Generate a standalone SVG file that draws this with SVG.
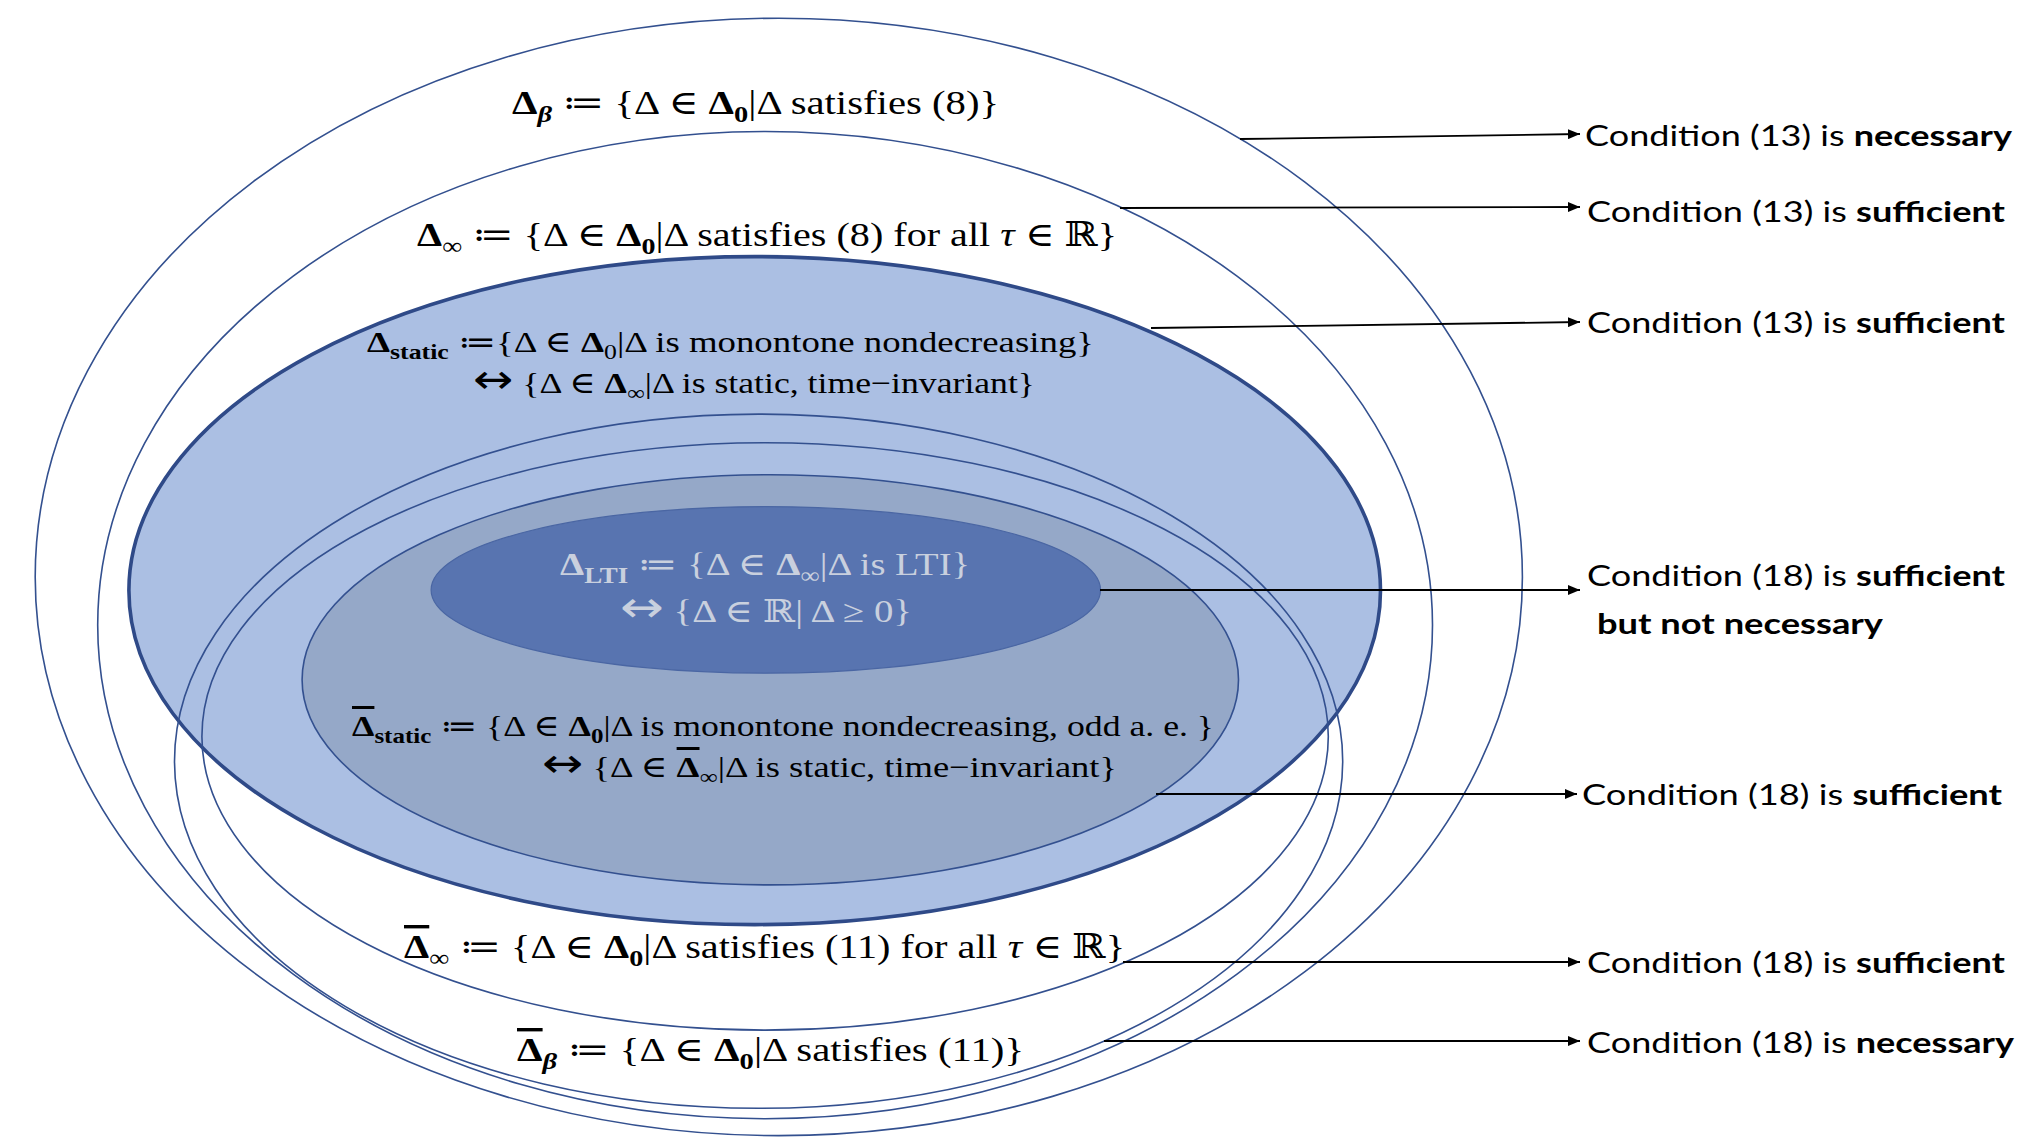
<svg xmlns="http://www.w3.org/2000/svg" width="2042" height="1146" viewBox="0 0 2042 1146">
<defs>
<marker id="arr" markerUnits="userSpaceOnUse" markerWidth="12" markerHeight="10" refX="12" refY="5" orient="auto">
<path d="M0,0 L12,5 L0,10 z" fill="#000"/>
</marker>
<style>
.ring{fill:none;stroke:#33508f;stroke-width:1.6}
.f{font-family:"Liberation Serif","DejaVu Serif",serif;fill:#000}
.big{font-size:34px}
.mid{font-size:30px}
.lab{font-family:Lato,"Liberation Sans",sans-serif;font-size:29px;fill:#000}
.b{font-weight:bold}
.i{font-style:italic}
.s{font-size:70%}
.ar{font-size:135%;font-family:"DejaVu Sans",sans-serif}
.ov{text-decoration:overline}
.conn line{stroke:#000;stroke-width:1.8;marker-end:url(#arr)}
</style>
</defs>
<rect width="2042" height="1146" fill="#fff"/>

<g id="delta-beta">
<ellipse class="ring" cx="778.8" cy="576.9" rx="743.6" ry="558.7"/>
<text class="f big" x="512" y="114" textLength="487" lengthAdjust="spacingAndGlyphs"><tspan class="b">Δ</tspan><tspan class="b i s" dy="8">β</tspan><tspan dy="-8"> ≔ {Δ ∈ </tspan><tspan class="b">Δ</tspan><tspan class="b s" dy="8">0</tspan><tspan dy="-8">|Δ satisfies (8)}</tspan></text>
</g>

<g id="delta-inf">
<ellipse class="ring" cx="765.1" cy="625.1" rx="667.4" ry="493.6"/>
<text class="f big" x="417" y="246" textLength="700" lengthAdjust="spacingAndGlyphs"><tspan class="b">Δ</tspan><tspan class="s" dy="8">∞</tspan><tspan dy="-8"> ≔ {Δ ∈ </tspan><tspan class="b">Δ</tspan><tspan class="b s" dy="8">0</tspan><tspan dy="-8">|Δ satisfies (8) for all </tspan><tspan class="i">τ</tspan><tspan> ∈ ℝ}</tspan></text>
</g>

<g id="delta-static">
<ellipse cx="754.7" cy="590.6" rx="625.8" ry="334" fill="#abbfe3" stroke="#2f4a88" stroke-width="3.6"/>
<text class="f mid" x="367" y="352" textLength="727" lengthAdjust="spacingAndGlyphs"><tspan class="b">Δ</tspan><tspan class="b s" dy="7">static</tspan><tspan dy="-7"> ≔{Δ ∈ </tspan><tspan class="b">Δ</tspan><tspan class="s" dy="7">0</tspan><tspan dy="-7">|Δ is  monontone nondecreasing}</tspan></text>
<text class="f mid" x="473" y="393" textLength="562" lengthAdjust="spacingAndGlyphs"><tspan class="ar">↔</tspan> {Δ ∈ <tspan class="b">Δ</tspan><tspan class="s" dy="7">∞</tspan><tspan dy="-7">|Δ  is static, time−invariant}</tspan></text>
</g>

<g id="delta-bar-beta">
<ellipse class="ring" cx="758.6" cy="761.2" rx="584.1" ry="347.1"/>
<text class="f big" x="517" y="1061" textLength="507" lengthAdjust="spacingAndGlyphs"><tspan class="b ov">Δ</tspan><tspan class="b i s" dy="8">β</tspan><tspan dy="-8"> ≔ {Δ ∈ </tspan><tspan class="b">Δ</tspan><tspan class="b s" dy="8">0</tspan><tspan dy="-8">|Δ satisfies (11)}</tspan></text>
</g>

<g id="delta-bar-inf">
<ellipse class="ring" cx="765.1" cy="736.4" rx="563.2" ry="293.7"/>
<text class="f big" x="404" y="958" textLength="721" lengthAdjust="spacingAndGlyphs"><tspan class="b ov">Δ</tspan><tspan class="s" dy="8">∞</tspan><tspan dy="-8"> ≔ {Δ ∈ </tspan><tspan class="b">Δ</tspan><tspan class="b s" dy="8">0</tspan><tspan dy="-8">|Δ satisfies (11) for all </tspan><tspan class="i">τ</tspan><tspan> ∈ ℝ}</tspan></text>
</g>

<g id="delta-bar-static">
<ellipse cx="770.3" cy="679.8" rx="468.2" ry="205.1" fill="#95a8c8" stroke="#33508f" stroke-width="1.6"/>
<text class="f mid" x="352" y="736" textLength="862" lengthAdjust="spacingAndGlyphs"><tspan class="b ov">Δ</tspan><tspan class="b s" dy="7">static</tspan><tspan dy="-7"> ≔ {Δ ∈ </tspan><tspan class="b">Δ</tspan><tspan class="b s" dy="7">0</tspan><tspan dy="-7">|Δ is monontone nondecreasing, odd a. e. }</tspan></text>
<text class="f mid" x="542" y="777" textLength="575" lengthAdjust="spacingAndGlyphs"><tspan class="ar">↔</tspan>  {Δ ∈ <tspan class="b ov">Δ</tspan><tspan class="s" dy="7">∞</tspan><tspan dy="-7">|Δ  is  static, time−invariant}</tspan></text>
</g>

<g id="delta-lti">
<ellipse cx="765.8" cy="589.9" rx="334.7" ry="83.3" fill="#5874b0" stroke="#4a66a3" stroke-width="1.2"/>
<text class="f" style="font-size:32px;fill:#c9d0de" x="560" y="575" textLength="410" lengthAdjust="spacingAndGlyphs"><tspan class="b">Δ</tspan><tspan class="b s" dy="8">LTI</tspan><tspan dy="-8"> ≔ {Δ ∈ </tspan><tspan class="b">Δ</tspan><tspan class="s" dy="8">∞</tspan><tspan dy="-8">|Δ is LTI}</tspan></text>
<text class="f" style="font-size:32px;fill:#c9d0de" x="620" y="622" textLength="292" lengthAdjust="spacingAndGlyphs"><tspan class="ar">↔</tspan> {Δ ∈ ℝ| Δ ≥ 0}</text>
</g>

<g id="connectors" class="conn">
<line x1="1240" y1="139" x2="1580" y2="134"/>
<line x1="1120" y1="208" x2="1580" y2="207"/>
<line x1="1151" y1="328" x2="1580" y2="322"/>
<line x1="1100" y1="590" x2="1580" y2="590"/>
<line x1="1156" y1="794" x2="1577" y2="794"/>
<line x1="1123" y1="962" x2="1580" y2="962"/>
<line x1="1104" y1="1041" x2="1580" y2="1041"/>
</g>

<g id="labels">
<text class="lab" x="1585" y="146" textLength="427" lengthAdjust="spacingAndGlyphs">Condition (13) is <tspan class="b">necessary</tspan></text>
<text class="lab" x="1587" y="222" textLength="418" lengthAdjust="spacingAndGlyphs">Condition (13) is <tspan class="b">sufficient</tspan></text>
<text class="lab" x="1587" y="333" textLength="418" lengthAdjust="spacingAndGlyphs">Condition (13) is <tspan class="b">sufficient</tspan></text>
<text class="lab" x="1587" y="586" textLength="418" lengthAdjust="spacingAndGlyphs">Condition (18) is <tspan class="b">sufficient</tspan></text>
<text class="lab b" x="1597" y="634" textLength="286" lengthAdjust="spacingAndGlyphs">but not necessary</text>
<text class="lab" x="1582" y="805" textLength="420" lengthAdjust="spacingAndGlyphs">Condition (18) is <tspan class="b">sufficient</tspan></text>
<text class="lab" x="1587" y="973" textLength="418" lengthAdjust="spacingAndGlyphs">Condition (18) is <tspan class="b">sufficient</tspan></text>
<text class="lab" x="1587" y="1053" textLength="427" lengthAdjust="spacingAndGlyphs">Condition (18) is <tspan class="b">necessary</tspan></text>
</g>
</svg>
